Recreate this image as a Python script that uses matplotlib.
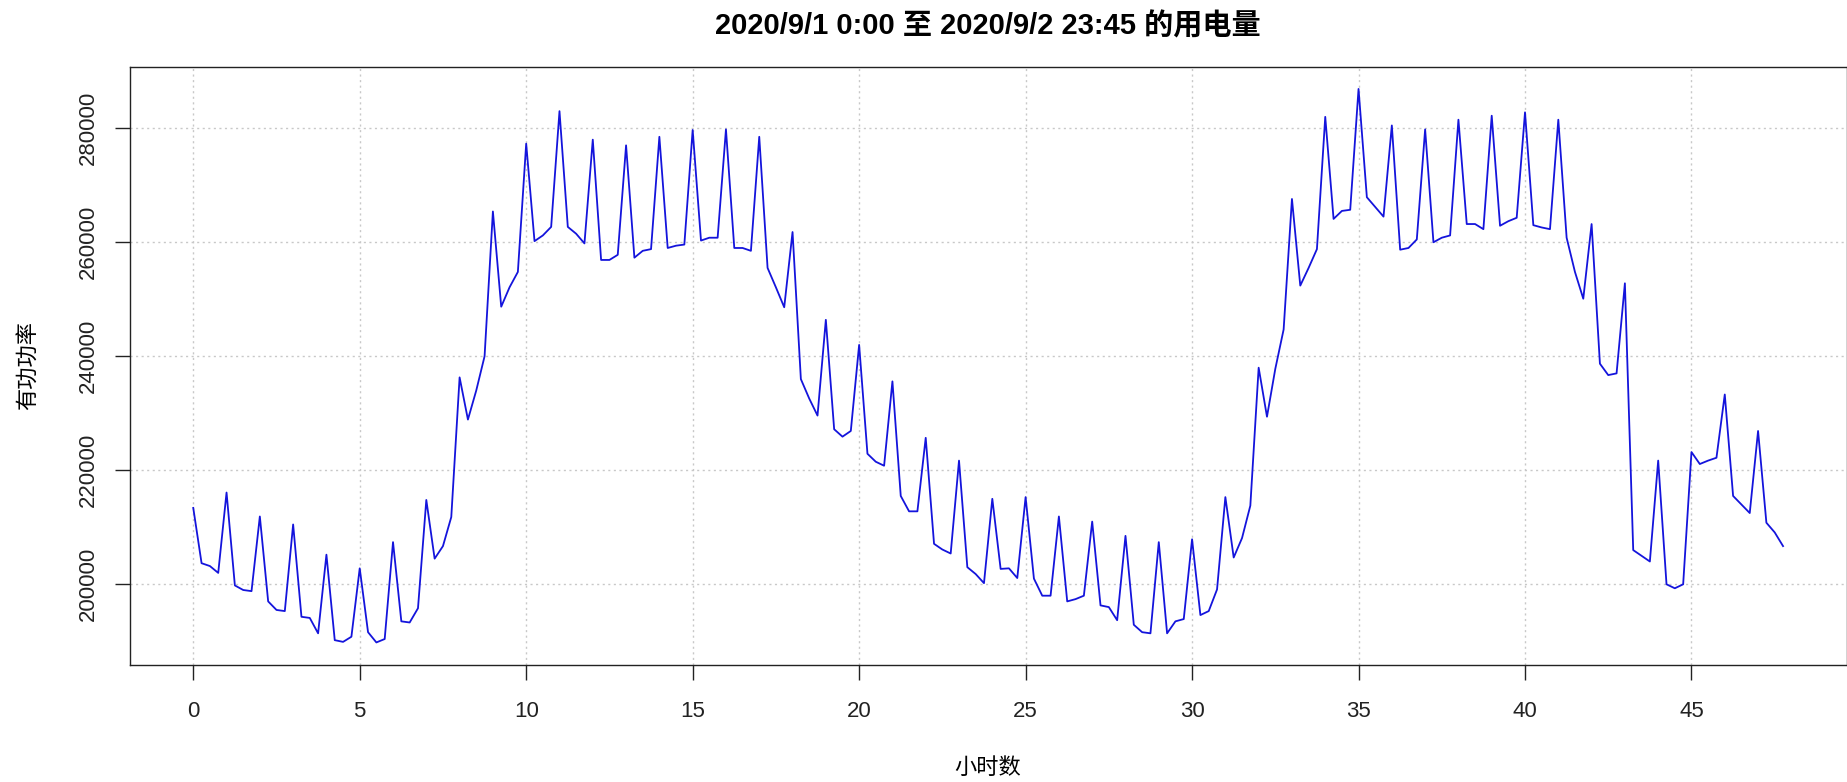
import numpy as np
import matplotlib
matplotlib.use('Agg')
import matplotlib.pyplot as plt
from matplotlib.ticker import FixedLocator

plt.rcParams['font.family'] = ['Liberation Sans', 'Noto Sans CJK SC', 'DejaVu Sans']

# 15-minute readings, 2020/9/1 0:00 .. 2020/9/2 23:45
day1_power = [
    213400, 203700, 203200, 202000, 216100, 199800, 199000, 198800,
    211900, 197000, 195500, 195300, 210500, 194300, 194100, 191400,
    205200, 190200, 189900, 190800, 202800, 191600, 189800, 190400,
    207400, 193500, 193300, 195800, 214800, 204500, 206700, 211800,
    236300, 228900, 234000, 240000, 265400, 248700, 252100, 254800,
    277300, 260200, 261200, 262700, 283000, 262700, 261500, 259800,
    278000, 256900, 256900, 257800, 277000, 257300, 258500, 258800,
    278500, 259000, 259400, 259600, 279700, 260300, 260800, 260800,
    279800, 259000, 259000, 258500, 278500, 255500, 252100, 248600,
    261800, 236000, 232600, 229600, 246400, 227200, 225900, 226900,
    242000, 222900, 221500, 220800, 235600, 215500, 212800, 212800,
    225700, 207100, 206100, 205400, 221700, 203000, 201800, 200200,
]
day2_power = [
    215000, 202700, 202800, 201100, 215300, 201000, 198000, 198000,
    211900, 197000, 197400, 198000, 211000, 196300, 196000, 193700,
    208500, 192900, 191600, 191400, 207400, 191400, 193500, 193900,
    207900, 194600, 195300, 199100, 215300, 204700, 208100, 213800,
    238000, 229400, 237800, 244700, 267600, 252400, 255500, 258800,
    282000, 264100, 265500, 265700, 286900, 267900, 266200, 264500,
    280500, 258700, 259000, 260500, 279800, 260000, 260800, 261200,
    281500, 263200, 263200, 262300, 282200, 262900, 263700, 264300,
    282800, 263000, 262600, 262300, 281500, 260800, 254800, 250100,
    263200, 238700, 236700, 237000, 252800, 206000, 205000, 204000,
    221700, 200000, 199300, 200000, 223200, 221100, 221700, 222200,
    233300, 215500, 214000, 212500, 226900, 210800, 209100, 206700,
]
power = np.array(day1_power + day2_power)
hours = np.arange(len(power)) * 0.25

x_ticks = [0, 5, 10, 15, 20, 25, 30, 35, 40, 45]
y_ticks = [200000, 220000, 240000, 260000, 280000]

title = "2020/9/1 0:00 至 2020/9/2 23:45 的用电量"
x_label = "小时数"
y_label = "有功功率"

fig = plt.figure(figsize=(18.47, 7.82), dpi=100)
ax = fig.add_axes([0.0702, 0.1496, 0.9296, 0.7651])

ax.plot(hours, power, color='#1414dc', linewidth=1.3)

ax.set_xlim(-1.91, 49.66)
ax.set_ylim(185840, 290800)
ax.xaxis.set_major_locator(FixedLocator(x_ticks))
ax.yaxis.set_major_locator(FixedLocator(y_ticks))
ax.set_xticklabels([str(t) for t in x_ticks])
ax.set_yticklabels([str(t) for t in y_ticks], rotation=90, va='center')

ax.grid(True, color='#c8c8c8', linestyle=(0, (1.5, 2.5)), linewidth=1.0)
ax.tick_params(axis='both', labelsize=16, length=11, width=1.0, colors='#222222')
ax.tick_params(axis='x', pad=15)
ax.tick_params(axis='y', pad=11)
for s in ax.spines.values():
    s.set_color('#222222')
    s.set_linewidth(1.0)

ax.set_title(title, fontsize=21, fontweight='bold', pad=23)
ax.set_xlabel(x_label, fontsize=16, labelpad=26)
ax.set_ylabel(y_label, fontsize=16, labelpad=28)

fig.savefig('out.png', dpi=100)
